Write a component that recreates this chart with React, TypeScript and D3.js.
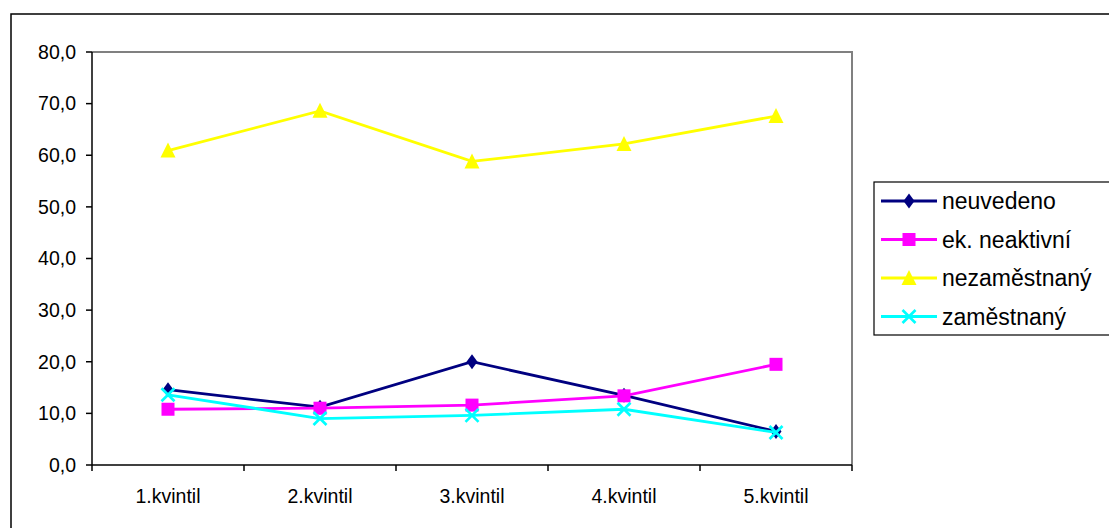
import React from "react";
import * as d3 from "d3";

const categories = ["1.kvintil", "2.kvintil", "3.kvintil", "4.kvintil", "5.kvintil"];
const neuvedeno = [14.6, 11.2, 20.0, 13.5, 6.5];
const ekNeaktivni = [10.8, 11.0, 11.6, 13.4, 19.5];
const nezamestnany = [60.9, 68.6, 58.8, 62.2, 67.6];
const zamestnany = [13.6, 9.0, 9.6, 10.8, 6.3];
const yTicks = [0, 10, 20, 30, 40, 50, 60, 70, 80];
const seriesNames = ["neuvedeno", "ek. neaktivní", "nezaměstnaný", "zaměstnaný"];
const seriesColors = ["#000080", "#FF00FF", "#FFFF00", "#00FFFF"];
const seriesMarkers = ["diamond", "square", "triangle", "x"];
const seriesValues = [neuvedeno, ekNeaktivni, nezamestnany, zamestnany];

const FONT = "'Liberation Sans', Arial, sans-serif";

function Marker({ kind, x, y, color }: { kind: string; x: number; y: number; color: string }) {
  if (kind === "diamond") {
    const p = d3.path();
    p.moveTo(x, y - 7.5);
    p.lineTo(x + 5.5, y);
    p.lineTo(x, y + 7.5);
    p.lineTo(x - 5.5, y);
    p.closePath();
    return <path d={p.toString()} fill={color} />;
  }
  if (kind === "square") {
    return <rect x={x - 6.5} y={y - 6.5} width={13} height={13} fill={color} />;
  }
  if (kind === "triangle") {
    const p = d3.path();
    p.moveTo(x, y - 8);
    p.lineTo(x + 7.5, y + 7);
    p.lineTo(x - 7.5, y + 7);
    p.closePath();
    return <path d={p.toString()} fill={color} />;
  }
  const s = 6.5;
  return (
    <g stroke={color} strokeWidth={2.6}>
      <line x1={x - s} y1={y - s} x2={x + s} y2={y + s} />
      <line x1={x - s} y1={y + s} x2={x + s} y2={y - s} />
    </g>
  );
}

export default function App() {
  const W = 1109;
  const H = 528;
  const left = 92;
  const right = 852;
  const top = 52;
  const bottom = 465;

  const x = d3.scaleBand<string>().domain(categories).range([left, right]);
  const y = d3.scaleLinear().domain([0, 80]).range([bottom, top]);
  const cx = (c: string) => (x(c) as number) + x.bandwidth() / 2;
  const fmt = (v: number) => d3.format(".1f")(v).replace(".", ",");
  const line = d3
    .line<number>()
    .x((_, i) => cx(categories[i]))
    .y((d) => y(d));

  const boundaries = [...categories.map((c) => x(c) as number), right];
  const legendRows = [201, 239.5, 278, 316.5];

  return (
    <svg
      width={W}
      height={H}
      style={{ position: "absolute", left: 0, top: 0, background: "#fff" }}
      fontFamily={FONT}
    >
      <rect x={0} y={0} width={W} height={H} fill="#fff" />
      <rect x={11} y={14} width={1120} height={540} fill="none" stroke="#000" strokeWidth={1.5} />

      {/* plot area border (gray top/right) */}
      <path d={`M${left},${top}H${right}V${bottom}`} fill="none" stroke="#808080" strokeWidth={2} />

      {/* y axis */}
      <line x1={left} y1={top} x2={left} y2={bottom} stroke="#000" strokeWidth={1.5} />
      {yTicks.map((t) => (
        <g key={t}>
          <line x1={left - 6} x2={left} y1={y(t)} y2={y(t)} stroke="#000" strokeWidth={1.5} />
          <text x={76} y={y(t)} dy="0.35em" textAnchor="end" fontSize={19.5} fill="#000">
            {fmt(t)}
          </text>
        </g>
      ))}

      {/* x axis */}
      <line x1={left} y1={bottom} x2={right} y2={bottom} stroke="#000" strokeWidth={1.5} />
      {boundaries.map((b, i) => (
        <line key={i} x1={b} x2={b} y1={bottom} y2={bottom + 6} stroke="#000" strokeWidth={1.5} />
      ))}
      {categories.map((c) => (
        <text key={c} x={cx(c)} y={496} dy="0.35em" textAnchor="middle" fontSize={19.5} fill="#000">
          {c}
        </text>
      ))}

      {/* series */}
      {seriesValues.map((vals, si) => (
        <g key={si}>
          <path d={line(vals) as string} fill="none" stroke={seriesColors[si]} strokeWidth={2.8} />
          {vals.map((v, i) => (
            <Marker key={i} kind={seriesMarkers[si]} x={cx(categories[i])} y={y(v)} color={seriesColors[si]} />
          ))}
        </g>
      ))}

      {/* legend */}
      <rect x={874} y={182} width={260} height={153} fill="#fff" stroke="#000" strokeWidth={1.2} />
      {seriesNames.map((n, i) => (
        <g key={n}>
          <line x1={881} x2={937} y1={legendRows[i]} y2={legendRows[i]} stroke={seriesColors[i]} strokeWidth={2.8} />
          <Marker kind={seriesMarkers[i]} x={909} y={legendRows[i]} color={seriesColors[i]} />
          <text x={942} y={legendRows[i]} dy="0.35em" fontSize={23} fill="#000">
            {n}
          </text>
        </g>
      ))}
    </svg>
  );
}
